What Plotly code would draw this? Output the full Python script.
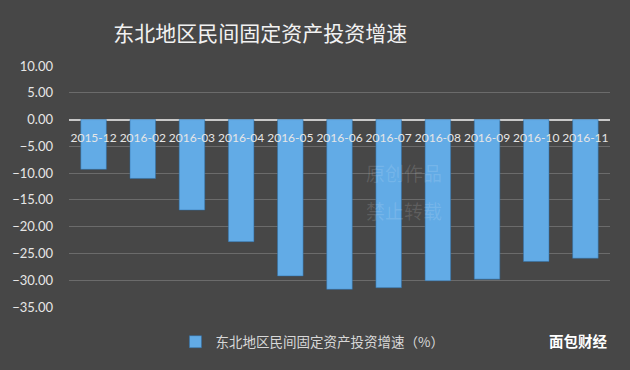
import plotly.graph_objects as go

categories = ["2015-12", "2016-02", "2016-03", "2016-04", "2016-05", "2016-06",
              "2016-07", "2016-08", "2016-09", "2016-10", "2016-11"]
values = [-9.3, -11.0, -16.9, -22.8, -29.2, -31.7, -31.4, -30.1, -29.8, -26.5, -25.9]
series_name = "东北地区民间固定资产投资增速（%）"
title_text = "东北地区民间固定资产投资增速"
y_ticks = [10, 5, 0, -5, -10, -15, -20, -25, -30, -35]

CJK = "Noto Sans CJK SC"
BG = "#474747"

fig = go.Figure()
fig.add_trace(go.Bar(
    x=categories, y=values, name=series_name,
    marker=dict(color="#62abe6", line=dict(color="#2f6fa6", width=0.5)),
    showlegend=True,
))

fig.update_layout(
    width=630, height=370,
    paper_bgcolor=BG, plot_bgcolor="rgba(0,0,0,0)",
    margin=dict(l=60, r=20, t=66, b=62),
    bargap=0.48,
    title=dict(text=title_text, x=0.413, xanchor="center", y=0.91, yanchor="middle",
               font=dict(family=CJK, size=21, color="#f2f2f2")),
    font=dict(family="Lato, " + CJK, color="#e6e6e6"),
    xaxis=dict(type="category", anchor="free", position=35/45, showgrid=False, showline=False,
               zeroline=False, ticks="", tickfont=dict(size=12, color="#e6e6e6"),
               tickangle=0, ticklabelstandoff=9),
    yaxis=dict(range=[-35, 10], tickvals=y_ticks, tickformat=".2f",
               showgrid=True, gridcolor="#6b6b6b", gridwidth=1,
               zeroline=True, zerolinecolor="#c8c8c8", zerolinewidth=2,
               tickfont=dict(size=13, color="#e6e6e6"), ticklabelstandoff=15),
    legend=dict(orientation="h", x=0.45, xanchor="center", y=-0.145, yanchor="middle",
                font=dict(family=CJK, size=13.5, color="#d8d8d8"),
                bgcolor="rgba(0,0,0,0)"),
)

fig.add_annotation(text="<b>面包财经</b>", xref="paper", yref="paper",
                   x=1.0, y=-0.14, xanchor="right", yanchor="middle", showarrow=False,
                   font=dict(family=CJK, size=14.5, color="#ffffff"))
fig.add_annotation(text="原创作品", xref="paper", yref="paper",
                   x=0.62, y=0.56, xanchor="center", yanchor="middle", showarrow=False,
                   font=dict(family=CJK, size=19, color="rgba(255,255,255,0.13)"))
fig.add_annotation(text="禁止转载", xref="paper", yref="paper",
                   x=0.62, y=0.40, xanchor="center", yanchor="middle", showarrow=False,
                   font=dict(family=CJK, size=19, color="rgba(255,255,255,0.13)"))

fig.write_html("out.html", config={"displayModeBar": False},
               post_script="document.body.style.margin='0';document.body.style.overflow='hidden';document.body.style.background='" + BG + "';")
